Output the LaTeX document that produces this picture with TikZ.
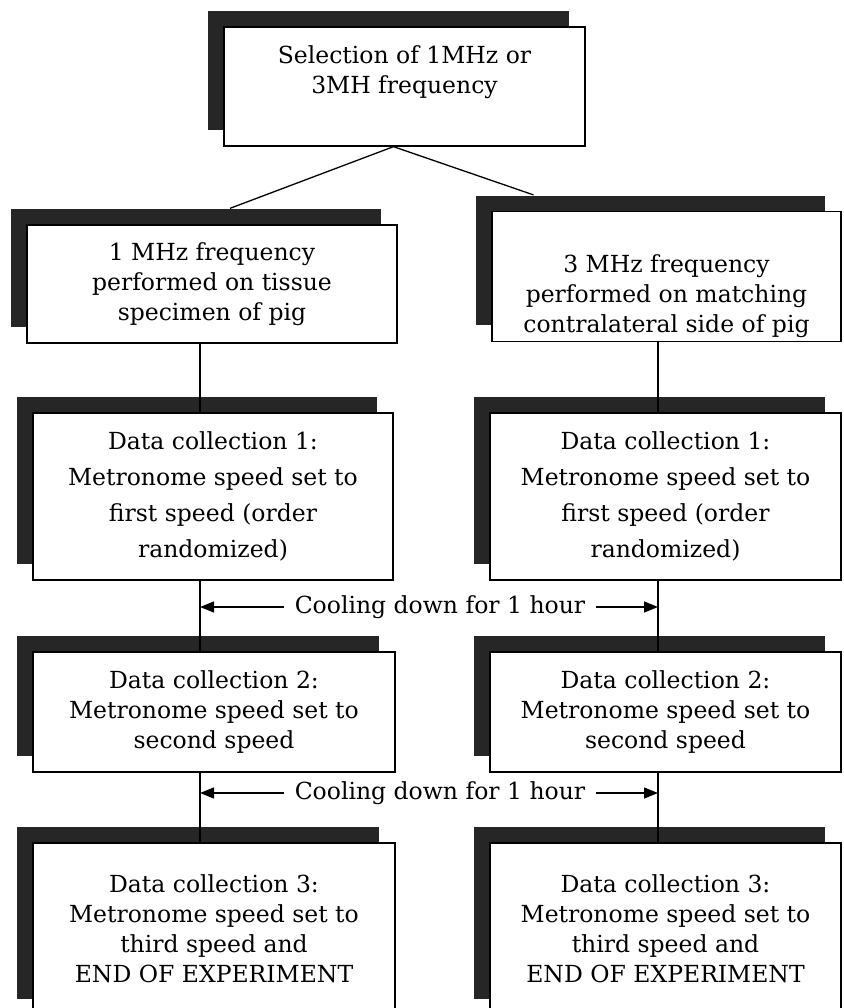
\documentclass[tikz,border=0pt]{standalone}
\usepackage{fontspec}
\setmainfont{DejaVu Serif}
\usetikzlibrary{arrows.meta,calc,shadows}

\begin{document}
\begin{tikzpicture}[x=1pt,y=-1pt,
    box/.style={draw, line width=1.3pt, fill=white, align=center,
      font=\fontsize{23.5}{30}\selectfont,
      drop shadow={shadow xshift=-16pt, shadow yshift=16pt,
        fill=black!85, opacity=1}},
    link/.style={line width=1.3pt},
    cool/.style={font=\fontsize{23.5}{28}\selectfont, inner xsep=11pt},
    tip/.style={-{Triangle[length=14pt,width=11pt]}}]
  \useasboundingbox (0,0) rectangle (843,1008);
  %
  % Boxes
  \node[box, minimum width=361pt, minimum height=119pt] (sel) at (404.5,86.5)
    {Selection of 1MHz or\\3MH frequency\rule[-34pt]{0pt}{0pt}};
  \node[box, minimum width=370pt, minimum height=118pt] (f1) at (212,284)
    {1 MHz frequency\\performed on tissue\\specimen of pig};
  \node[box, minimum width=349pt, minimum height=117pt] (f3) at (666.5,276.5)
    {\rule{0pt}{58pt}3 MHz frequency\\performed on matching\\contralateral side of pig};
  \node[box, minimum width=360pt, minimum height=167pt,
    font=\fontsize{23.5}{36}\selectfont] (d1l) at (213,496.5)
    {Data collection 1:\\Metronome speed set to\\first speed (order\\randomized)};
  \node[box, minimum width=351pt, minimum height=167pt,
    font=\fontsize{23.5}{36}\selectfont] (d1r) at (665.5,496.5)
    {Data collection 1:\\Metronome speed set to\\first speed (order\\randomized)};
  \node[box, minimum width=362pt, minimum height=120pt] (d2l) at (214,712)
    {Data collection 2:\\Metronome speed set to\\second speed};
  \node[box, minimum width=351pt, minimum height=120pt] (d2r) at (665.5,712)
    {Data collection 2:\\Metronome speed set to\\second speed};
  \node[box, minimum width=362pt, minimum height=172pt] (d3l) at (214,929)
    {Data collection 3:\\Metronome speed set to\\third speed and\\END OF EXPERIMENT};
  \node[box, minimum width=351pt, minimum height=172pt] (d3r) at (665.5,929)
    {Data collection 3:\\Metronome speed set to\\third speed and\\END OF EXPERIMENT};
  %
  % Cooling labels
  \node[cool] (cool1) at (440,607) {Cooling down for 1 hour};
  \node[cool] (cool2) at (440,793) {Cooling down for 1 hour};
  %
  % Connectors
  \coordinate (lx) at (200,0);
  \coordinate (rx) at (658,0);
  \draw[link] ($(sel.south)+(-11,0)$) -- ($(f1.north)+(18,-16)$);
  \draw[link] ($(sel.south)+(-11,0)$) -- ($(f3.north)+(-133,-16)$);
  \draw[link] (f1.south -| lx) -- (d1l.north -| lx);
  \draw[link] (d1l.south -| lx) -- (d2l.north -| lx);
  \draw[link] (d2l.south -| lx) -- (d3l.north -| lx);
  \draw[link] (f3.south -| rx) -- (d1r.north -| rx);
  \draw[link] (d1r.south -| rx) -- (d2r.north -| rx);
  \draw[link] (d2r.south -| rx) -- (d3r.north -| rx);
  \draw[link, tip] (cool1.west) -- (cool1.west -| lx);
  \draw[link, tip] (cool1.east) -- (cool1.east -| rx);
  \draw[link, tip] (cool2.west) -- (cool2.west -| lx);
  \draw[link, tip] (cool2.east) -- (cool2.east -| rx);
\end{tikzpicture}
\end{document}
